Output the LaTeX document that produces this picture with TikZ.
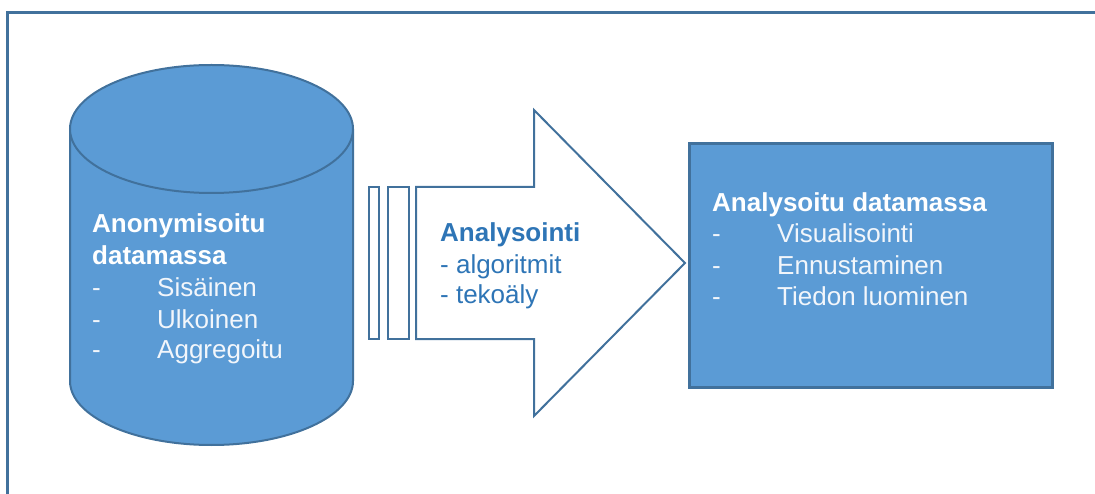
\documentclass[tikz,border=0pt]{standalone}
\usepackage{fontspec}
\setmainfont{Liberation Sans}
\definecolor{fillblue}{HTML}{5B9BD5}
\definecolor{edgeblue}{HTML}{41719C}
\definecolor{textblue}{HTML}{2E75B6}
\definecolor{lightwhite}{HTML}{F2F6FB}
\tikzset{
  shapeedge/.style={draw=edgeblue, line width=2pt},
  wtxt/.style={anchor=base west, inner sep=0pt, text=lightwhite, font=\fontsize{26}{32}\selectfont},
  wbold/.style={wtxt, text=white, font=\fontsize{26}{32}\selectfont\bfseries},
  btxt/.style={anchor=base west, inner sep=0pt, text=textblue, font=\fontsize{26}{32}\selectfont},
  bbold/.style={btxt, font=\fontsize{26}{32}\selectfont\bfseries},
}
\begin{document}
\begin{tikzpicture}[x=1pt,y=-1pt]
\useasboundingbox (0,0) rectangle (1095,494);
% frame
\draw[draw=edgeblue, line width=3pt] (7.5,494) -- (7.5,12.5) -- (1095,12.5);
% cylinder
\fill[fillblue] (70,129) -- (70,381) arc[start angle=180, end angle=360, x radius=141.5pt, y radius=64pt] -- (353,129) -- cycle;
\draw[shapeedge] (70,129) -- (70,381) arc[start angle=180, end angle=360, x radius=141.5pt, y radius=64pt] -- (353,129);
\draw[shapeedge, fill=fillblue] (211.5,129) ellipse [x radius=141.5pt, y radius=64pt];
% arrow with stripes
\draw[shapeedge, fill=white] (369,187) rectangle (379,339);
\draw[shapeedge, fill=white] (388,187) rectangle (409,339);
\draw[shapeedge, fill=white] (416,187) -- (534,187) -- (534,110) -- (685,263) -- (534,416) -- (534,339) -- (416,339) -- cycle;
% result box
\draw[draw=edgeblue, line width=3pt, fill=fillblue] (689,144) rectangle (1052,387);
% cylinder text
\node[wbold] (c1) at (92,233) {Anonymisoitu};
\node[wbold] (c2) at (92,265) {datamassa};
\node[wtxt] (c3d) at (92,297) {-};
\node[wtxt] (c3) at (157,297) {Sisäinen};
\node[wtxt] (c4d) at (92,328) {-};
\node[wtxt] (c4) at (157,328) {Ulkoinen};
\node[wtxt] (c5d) at (92,359) {-};
\node[wtxt] (c5) at (157,359) {Aggregoitu};
% arrow text
\node[bbold] (a1) at (440,242) {Analysointi};
\node[btxt] (a2) at (440,274) {- algoritmit};
\node[btxt] (a3) at (440,304) {- tekoäly};
% box text
\node[wbold] (r1) at (712,212) {Analysoitu datamassa};
\node[wtxt] (r2d) at (712,243) {-};
\node[wtxt] (r2) at (777,243) {Visualisointi};
\node[wtxt] (r3d) at (712,275) {-};
\node[wtxt] (r3) at (777,275) {Ennustaminen};
\node[wtxt] (r4d) at (712,306) {-};
\node[wtxt] (r4) at (777,306) {Tiedon luominen};
\end{tikzpicture}
\end{document}
